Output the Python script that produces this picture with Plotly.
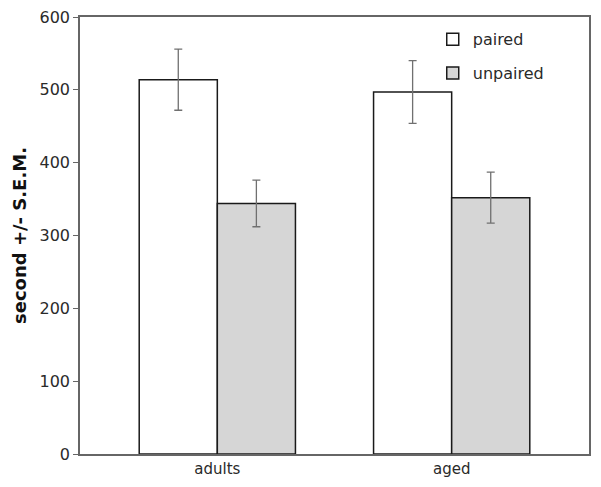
import plotly.graph_objects as go

categories = ["adults", "aged"]
paired = [514, 497]
paired_err = [42, 43]
unpaired = [344, 352]
unpaired_err = [32, 35]
y_ticks = [0, 100, 200, 300, 400, 500, 600]

FONT = "DejaVu Sans, Arial, sans-serif"

fig = go.Figure()
fig.add_trace(go.Bar(
    x=categories, y=paired, name="paired",
    marker=dict(color="white", line=dict(color="#1a1a1a", width=1.5)),
    error_y=dict(type="data", array=paired_err, color="#707070", thickness=1.3, width=4),
    legendgroup="a",
))
fig.add_trace(go.Bar(
    x=categories, y=unpaired, name="unpaired",
    marker=dict(color="#d6d6d6", line=dict(color="#1a1a1a", width=1.5)),
    error_y=dict(type="data", array=unpaired_err, color="#707070", thickness=1.3, width=4),
    legendgroup="b",
))

# the page body adds an 8px offset, so margins compensate for it
fig.update_layout(
    width=601, height=487,
    margin=dict(l=72, r=20, t=9, b=41, autoexpand=False),
    paper_bgcolor="white", plot_bgcolor="white",
    barmode="group", bargap=1/3, bargroupgap=0,
    font=dict(family=FONT, size=14, color="#2a2a2a"),
    showlegend=True,
    legend=dict(x=0.693, y=0.988, xanchor="left", yanchor="top",
                bgcolor="rgba(0,0,0,0)", font=dict(size=16, color="#2a2a2a"),
                tracegroupgap=10, itemwidth=30),
    xaxis=dict(type="category", range=[-0.586, 1.586], showgrid=False, automargin=False,
               showline=True, linecolor="#666", linewidth=1.5, mirror=True,
               ticks="", tickfont=dict(size=15, color="#2a2a2a")),
    yaxis=dict(range=[0, 600], tickvals=y_ticks, showgrid=False, zeroline=False, automargin=False,
               showline=True, linecolor="#666", linewidth=1.5, mirror=True,
               ticks="outside", ticklen=5, tickcolor="#666", ticklabeloverflow="allow",
               tickfont=dict(size=16, color="#2a2a2a"),
               title=dict(text="<b>second +/- S.E.M.</b>", font=dict(size=18, color="#111"), standoff=8)),
)

fig.write_html("out.html")
